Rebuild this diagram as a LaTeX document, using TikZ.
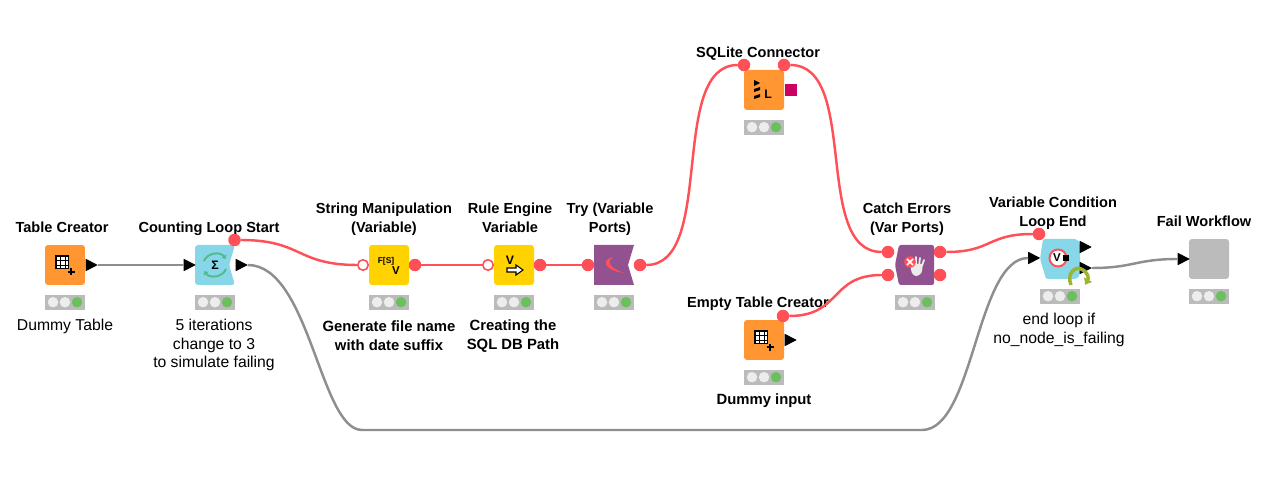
\documentclass[tikz,border=0pt]{standalone}
\usepackage{fontspec}
\setmainfont{Liberation Sans}
\usetikzlibrary{positioning,shapes.geometric,arrows.meta}
\definecolor{knorange}{HTML}{FF9632}
\definecolor{knblue}{HTML}{87D7E8}
\definecolor{knyellow}{HTML}{FFD200}
\definecolor{knpurple}{HTML}{91528F}
\definecolor{kngray}{HTML}{BBBBBB}
\definecolor{knred}{HTML}{FF5058}
\definecolor{knwire}{HTML}{8E8E8E}
\definecolor{knpink}{HTML}{CC0060}
\definecolor{knlight}{HTML}{6BBF5C}
\definecolor{knsum}{HTML}{55B98A}
\definecolor{knloop}{HTML}{9DB52C}
\tikzset{
  box/.style={rectangle,minimum size=0.8cm,inner sep=0pt,rounded corners=1.7pt},
  barbox/.style={rectangle,fill=kngray,minimum width=0.8cm,minimum height=0.3cm,inner sep=0pt},
  lamp/.style={circle,fill=#1,minimum size=0.21cm,inner sep=0pt},
  dataport/.style={isosceles triangle,isosceles triangle stretches,fill=black,minimum width=0.25cm,minimum height=0.24cm,inner sep=0pt,outer sep=0pt},
  varport/.style={circle,fill=knred,minimum size=0.25cm,inner sep=0pt,outer sep=0pt},
  openport/.style={circle,draw=knred,fill=white,line width=0.9pt,minimum size=0.21cm,inner sep=0pt,outer sep=0pt},
  headlabel/.style={font=\fontsize{8.3}{10.8}\selectfont\bfseries,align=center},
  footlabel/.style={font=\fontsize{8.95}{10.6}\selectfont,align=center},
  boldfoot/.style={font=\fontsize{8.45}{10.8}\selectfont\bfseries,align=center},
  wire/.style={knwire,line width=1.4pt},
  varwire/.style={knred,line width=1.4pt},
  tableicon/.pic={
    \fill[white] (-10,-10) rectangle (3,3);
    \draw[black,line width=0.5pt] (-10,-10) grid[xstep=0.087cm,ystep=0.087cm] (3,3);
    \draw[black,line width=0.5pt] (-10,-10) rectangle (3,3);
    \draw[black,line width=1.1pt] (2.5,7) -- (9.5,7) (6,3.5) -- (6,10.5);
  }
}
\begin{document}
\begin{tikzpicture}[x=0.02cm,y=-0.02cm]
\useasboundingbox (0,0) rectangle (1273,479);
% labels
\node[headlabel] (tablecreatorhead) at (62,227) {Table Creator};
\node[headlabel] (countingstarthead) at (209,229) {Counting Loop Start};
\node[headlabel] (stringmaniphead) at (384,219) {String Manipulation\\(Variable)};
\node[headlabel] (ruleenginehead) at (510,218) {Rule Engine\\Variable};
\node[headlabel] (tryporthead) at (610,219) {Try (Variable\\Ports)};
\node[headlabel] (sqlitehead) at (758,54) {SQLite Connector};
\node[headlabel] (catcherrhead) at (907,219) {Catch Errors\\(Var Ports)};
\node[headlabel] (emptytablehead) at (758,304) {Empty Table Creator};
\node[headlabel] (varcondhead) at (1053,213) {Variable Condition\\Loop End};
\node[headlabel] (failflowhead) at (1204,221) {Fail Workflow};
\node[footlabel] (tablecreatorfoot) at (65,326) {Dummy Table};
\node[footlabel] (countingstartfoot) at (214,345) {5 iterations\\change to 3\\to simulate failing};
\node[boldfoot] (stringmanipfoot) at (389,336) {Generate file name\\with date suffix};
\node[boldfoot] (ruleenginefoot) at (513,336) {Creating the\\SQL DB Path};
\node[boldfoot] (emptytablefoot) at (764,401) {Dummy input};
\node[footlabel] (varcondfoot) at (1059,330) {end loop if\\no\_node\_is\_failing};
% bodies
\node[box,fill=knorange] (tablecreator) at (65,265) {};
\fill[knblue,rounded corners=1.7pt] (195,245) -- (235,245) -- (229,265) -- (235,285) -- (195,285) -- cycle;
\node[box] (countingstart) at (215,265) {};
\node[box,fill=knyellow] (stringmanip) at (389,265) {};
\node[box,fill=knyellow] (ruleengine) at (514,265) {};
\fill[knpurple] (594,245) -- (634,245) -- (628,265) -- (634,285) -- (594,285) -- cycle;
\node[box] (tryport) at (614,265) {};
\node[box,fill=knorange] (sqlite) at (764,90) {};
\fill[knpurple,rounded corners=1.2pt] (899,245) -- (934,245) -- (934,285) -- (899,285) -- (895,265) -- cycle;
\node[box] (catcherr) at (915,265) {};
\node[box,fill=knorange] (emptytable) at (764,340) {};
\fill[knblue,rounded corners=1.2pt] (1043,239) -- (1077,239) -- (1080,243) -- (1080,275) -- (1077,279) -- (1046,279) -- (1040,259) -- cycle;
\node[box] (varcond) at (1060,259) {};
\node[box,fill=kngray] (failflow) at (1209,259) {};
% status lights
\foreach \nd in {tablecreator,countingstart,stringmanip,ruleengine,tryport,sqlite,catcherr,emptytable,varcond,failflow} {
  \node[barbox,below=0.18cm of \nd] (\nd bar) {};
  \node[lamp=white!93!black] at ([xshift=-0.24cm]\nd bar.center) {};
  \node[lamp=white!93!black] at (\nd bar.center) {};
  \node[lamp=knlight] at ([xshift=0.24cm]\nd bar.center) {};
}
% ports
\node[dataport] (tablecreatorout) at (89.5,265) {};
\node[dataport] (countingstartin) at (187.5,265) {};
\node[dataport] (countingstartout) at (239.5,265) {};
\node[varport] (countingstartvar) at (234.5,240) {};
\node[openport] (stringmanipin) at (363,265) {};
\node[varport] (stringmanipout) at (415,265) {};
\node[openport] (ruleenginein) at (488,265) {};
\node[varport] (ruleengineout) at (540,265) {};
\node[varport] (tryportin) at (588,265) {};
\node[varport] (tryportout) at (640,265) {};
\node[varport] (sqlitein) at (744,65) {};
\node[varport] (sqliteout) at (784,65) {};
\node[rectangle,fill=knpink,minimum size=0.23cm,inner sep=0pt] (sqlitedb) at (791,90) {};
\node[varport] (catcherrina) at (888,252) {};
\node[varport] (catcherrinb) at (888,275) {};
\node[varport] (catcherrouta) at (940,252) {};
\node[varport] (catcherroutb) at (940,275) {};
\node[varport] (emptytablevar) at (783,316) {};
\node[dataport] (emptytableout) at (788.5,340) {};
\node[varport] (varcondvar) at (1039,234) {};
\node[dataport] (varcondin) at (1032,258) {};
\node[dataport] (varcondouta) at (1083.5,247) {};
\node[dataport] (varcondoutb) at (1083.5,268) {};
\node[dataport] (failflowin) at (1181.5,259) {};
% connectors
\coordinate (belowstart) at (362,430);
\coordinate (belowend) at (922,430);
\draw[wire] (tablecreatorout.east) -- (countingstartin.west);
\draw[wire] (countingstartout.east) .. controls +(62,0) and +(-42,0) .. (belowstart) -- (belowend) .. controls +(52,0) and +(-52,0) .. (varcondin.west);
\draw[wire] (varcondoutb.east) .. controls +(42,0) and +(-42,0) .. (failflowin.west);
\draw[varwire] (countingstartvar.east) .. controls +(62,0) and +(-62,0) .. (stringmanipin.west);
\draw[varwire] (stringmanipout.east) -- (ruleenginein.west);
\draw[varwire] (ruleengineout.east) -- (tryportin.west);
\draw[varwire] (tryportout.east) .. controls +(70,0) and +(-70,0) .. (sqlitein.west);
\draw[varwire] (sqliteout.east) .. controls +(70,0) and +(-70,0) .. (catcherrina.west);
\draw[varwire] (emptytablevar.east) .. controls +(52,0) and +(-52,0) .. (catcherrinb.west);
\draw[varwire] (catcherrouta.east) .. controls +(46,0) and +(-46,0) .. (varcondvar.west);
% icons
\path (65,265) pic {tableicon};
\path (764,340) pic {tableicon};
\node[font=\fontsize{7}{7}\selectfont\bfseries,inner sep=0pt] (sigmaglyph) at (215,265) {Σ};
\draw[-{Latex[length=2pt,width=4pt]},knsum,line width=1.1pt] (204,261) .. controls (207,253) and (220,251) .. (226,259);
\draw[-{Latex[length=2pt,width=4pt]},knsum,line width=1.1pt] (226,269) .. controls (223,277) and (210,279) .. (204,271);
\node[font=\fontsize{4.8}{4.8}\selectfont\bfseries,inner sep=0pt] (fsglyph) at (386,261) {F[S]};
\node[font=\fontsize{6.5}{6.5}\selectfont\bfseries,inner sep=0pt] (fsvglyph) at (396,271) {V};
\node[font=\fontsize{7}{7}\selectfont\bfseries,inner sep=0pt] (ruleglyph) at (510,260) {V};
\draw[fill=white,line width=0.6pt] (507,268) -- (516,268) -- (516,265) -- (523,270) -- (516,275) -- (516,272) -- (507,272) -- cycle;
\fill[knred] (613,257) .. controls (602,259) and (602,270) .. (624,273) .. controls (610,268) and (606,262) .. (613,257);
\fill (754,80) -- (760,83) -- (754,86) -- cycle;
\fill (754,89) -- (760,87) -- (760,90) -- (754,92) -- cycle;
\fill (754,96) -- (760,94) -- (760,97) -- (754,99) -- cycle;
\node[font=\fontsize{7}{7}\selectfont\bfseries,inner sep=0pt] (sqliteglyph) at (768,94) {L};
\fill[white!92!black] (911,264) -- (922,264) .. controls (924,272) and (920,276) .. (916,276) .. controls (912,276) and (910,270) .. (911,264);
\draw[white!92!black,line width=1pt,line cap=round] (913,266) -- (912,259) (916,266) -- (916,257) (919,266) -- (920,258) (921.5,267) -- (924,260);
\fill[knred] (910,262) circle[radius=0.115cm];
\draw[white,line width=0.9pt] (907,259) -- (913,265) (913,259) -- (907,265);
\draw[knred,fill=white,line width=1.1pt] (1058,258) circle[radius=0.17cm];
\node[font=\fontsize{6.5}{6.5}\selectfont\bfseries,inner sep=0pt] (condglyph) at (1057,258) {V};
\fill (1063,255) rectangle (1069,261);
\draw[-{Latex[length=3.5pt,width=6pt]},knloop,line width=2pt] (1071,285) .. controls (1066,273) and (1076,266) .. (1081,269) .. controls (1088,272) and (1089,278) .. (1085,285);
\end{tikzpicture}
\end{document}
